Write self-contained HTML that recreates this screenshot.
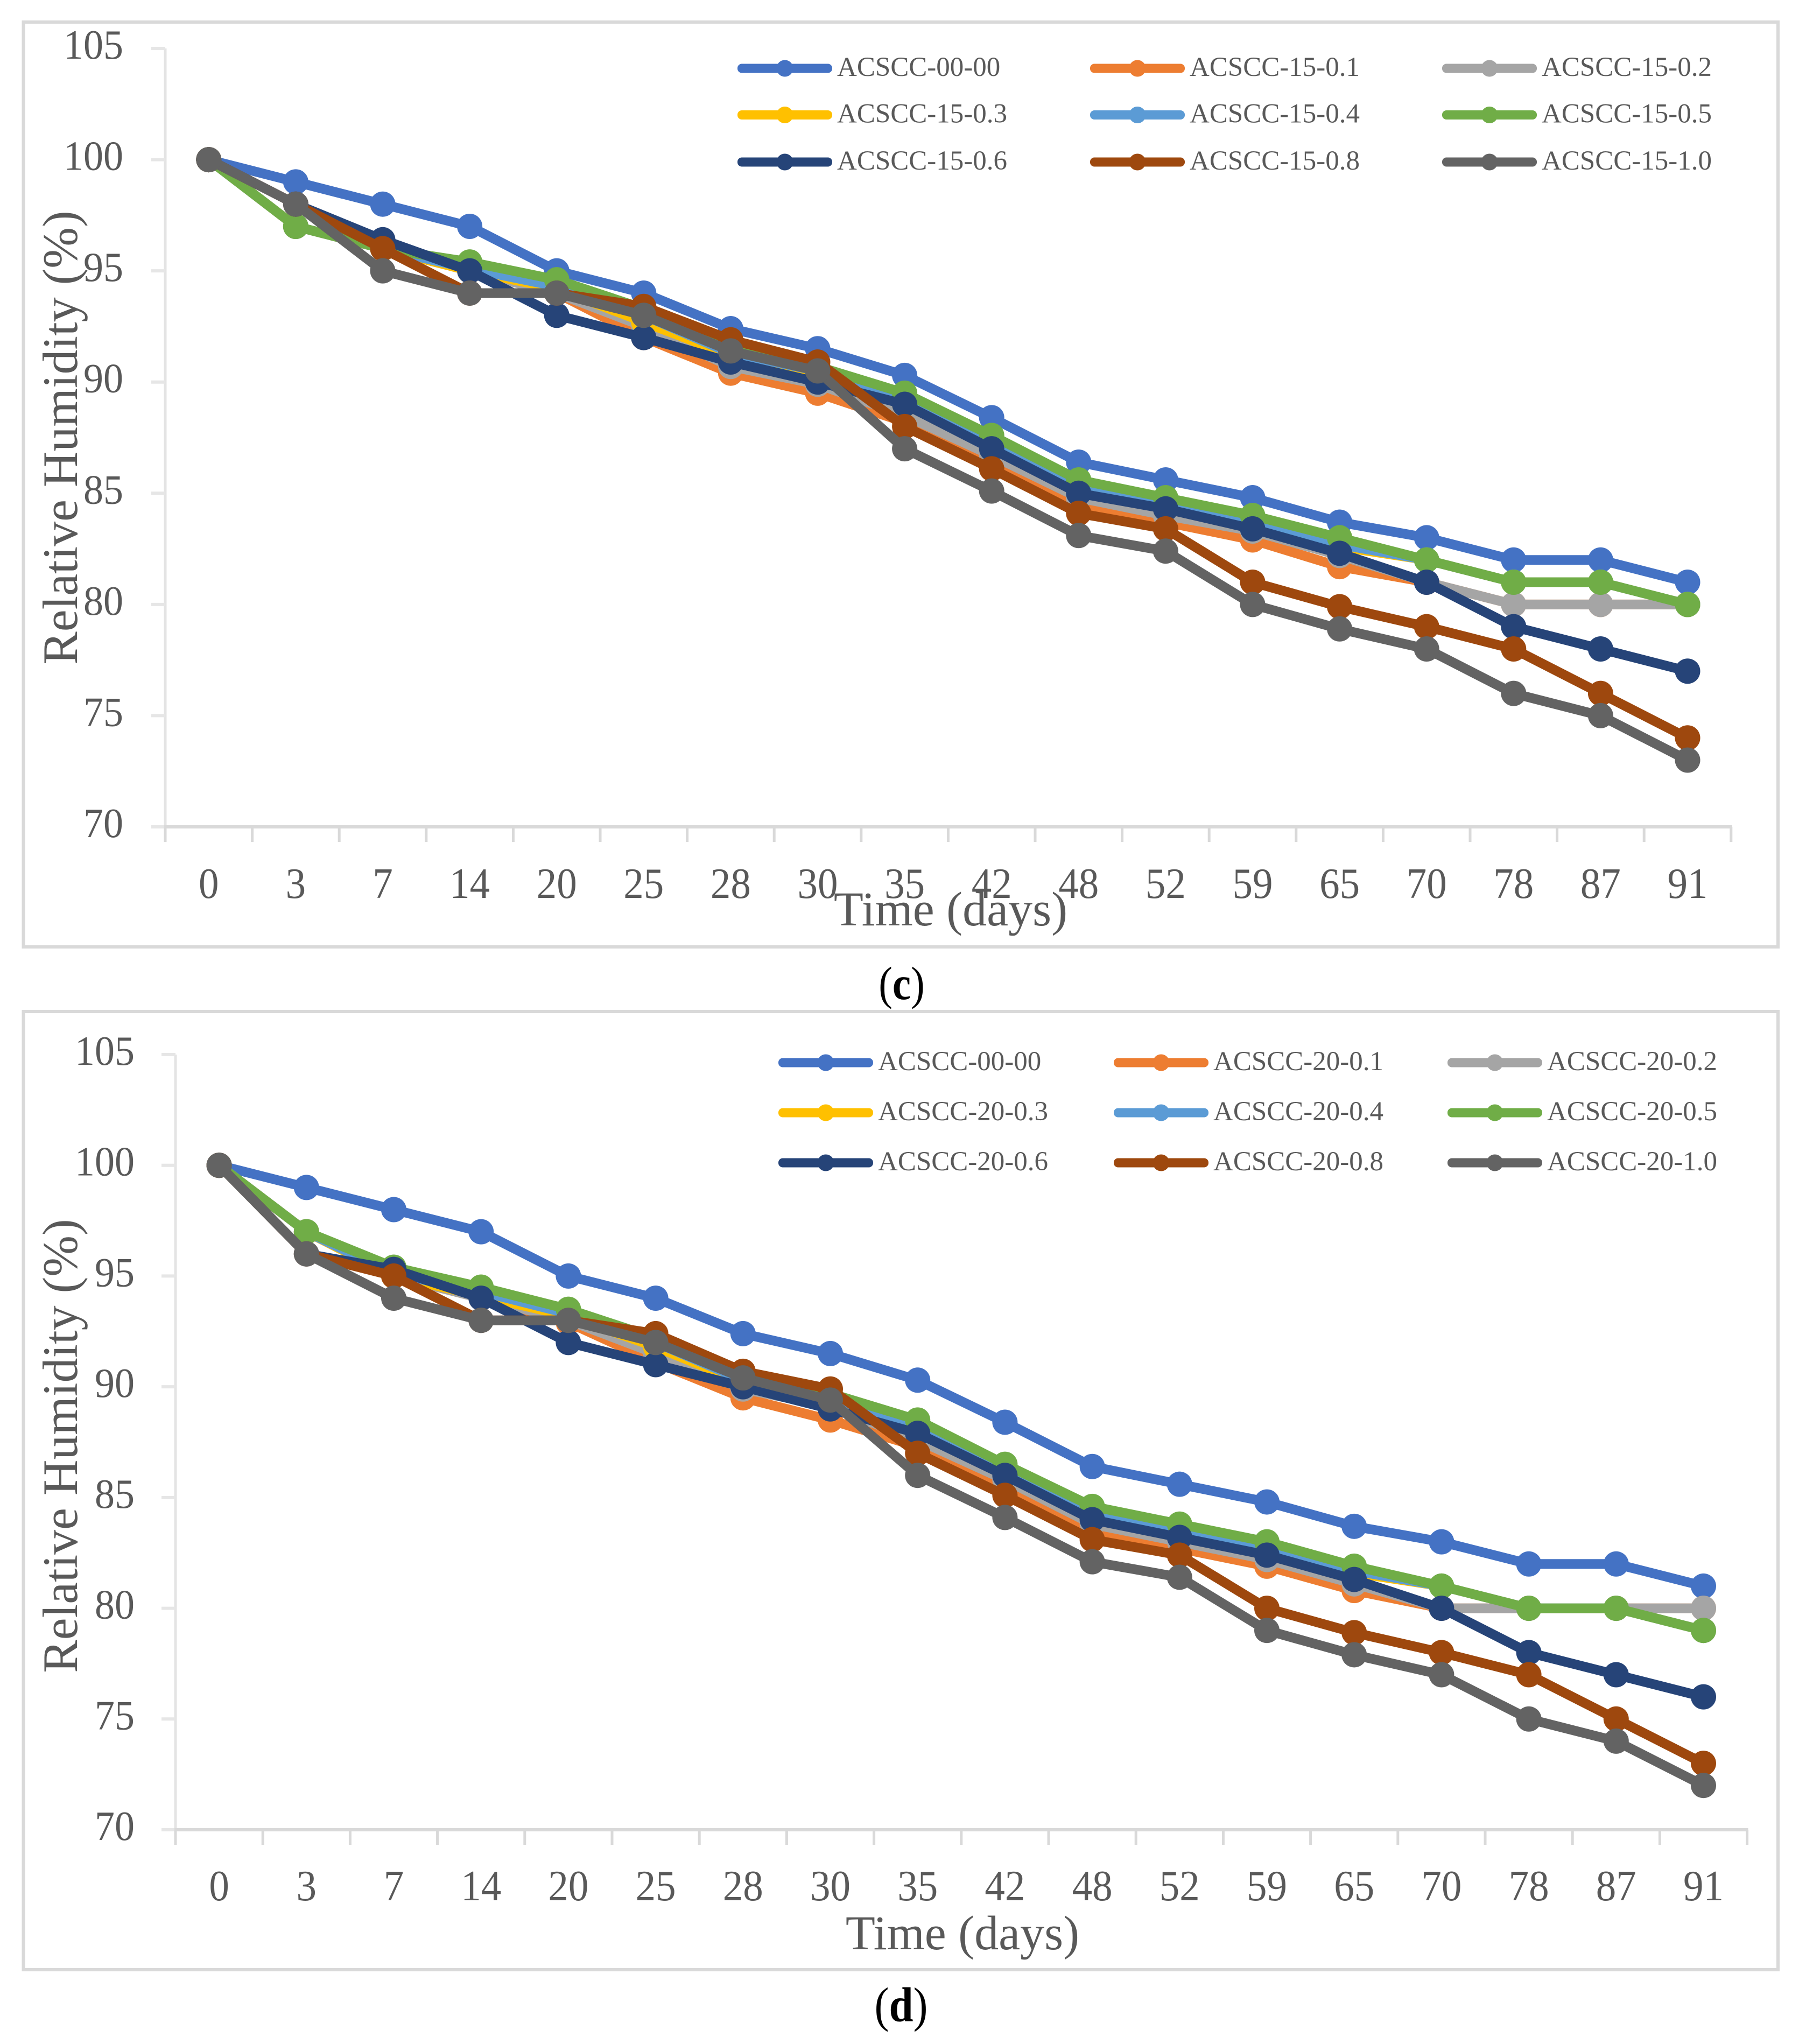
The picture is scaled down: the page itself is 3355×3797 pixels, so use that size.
<!DOCTYPE html>
<html lang="en">
<head>
<meta charset="utf-8">
<title>Relative Humidity over Time</title>
<style>
html,body{margin:0;padding:0;background:#fff;}
svg{display:block;}
text{font-family:"Liberation Serif",serif;fill:#595959;}
</style>
</head>
<body>
<svg id="figure" xmlns="http://www.w3.org/2000/svg" width="3355" height="3797" viewBox="0 0 3355 3797">
  <rect x="0" y="0" width="3355" height="3797" fill="#ffffff"/>
  <rect x="43.5" y="41" width="3259.5" height="1718" fill="#fff" stroke="#D9D9D9" stroke-width="6"/>
  <rect x="43.5" y="1879" width="3259.5" height="1780" fill="#fff" stroke="#D9D9D9" stroke-width="6"/>
  <g id="chart-c"></g>
  <g id="chart-d"></g>
  <text transform="translate(143,813) rotate(-90)" text-anchor="middle" font-size="92">Relative Humidity (%)</text>
  <text transform="translate(143,2686) rotate(-90)" text-anchor="middle" font-size="92">Relative Humidity (%)</text>
  <text x="1766" y="1719" text-anchor="middle" font-size="90">Time (days)</text>
  <text x="1788" y="3621" text-anchor="middle" font-size="90">Time (days)</text>
  <text transform="translate(1675,1856) scale(1,1.13)" text-anchor="middle" font-size="77" style="fill:#000">(<tspan font-weight="bold">c</tspan>)</text>
  <text transform="translate(1674,3755) scale(1,1.12)" text-anchor="middle" font-size="81" style="fill:#000">(<tspan font-weight="bold">d</tspan>)</text>
</svg>
<script>
// ---- shared categories and axis labels ----
const days = ["0","3","7","14","20","25","28","30","35","42","48","52","59","65","70","78","87","91"];
const yTicks = [70,75,80,85,90,95,100,105];
const seriesColors = ["#4472C4","#ED7D31","#A5A5A5","#FFC000","#5B9BD5","#70AD47","#264478","#9E480E","#636363"];

// ---- chart (c) values ----
const namesC = ["ACSCC-00-00","ACSCC-15-0.1","ACSCC-15-0.2","ACSCC-15-0.3","ACSCC-15-0.4","ACSCC-15-0.5","ACSCC-15-0.6","ACSCC-15-0.8","ACSCC-15-1.0"];
const c_00_00 = [100,99,98,97,95,94,92.4,91.5,90.3,88.4,86.4,85.6,84.8,83.7,83,82,82,81];
const c_15_01 = [100,97,96,95,94,92,90.4,89.5,88.2,86.4,84.5,83.7,82.9,81.7,81,80,80,80];
const c_15_02 = [100,97,96,95,94,92.5,90.7,89.9,88.5,86.7,84.8,84,83.3,82.2,81,80,80,80];
const c_15_03 = [100,97,96,95,94.2,92.7,91.2,90.2,89,87.1,85.1,84.4,83.6,82.6,82,81,81,80];
const c_15_04 = [100,97,96,95.1,94.3,93,91.3,90.5,89.1,87.2,85.2,84.5,83.7,82.7,82,81,81,80];
const c_15_05 = [100,97,96,95.4,94.6,93.3,91.5,90.7,89.5,87.6,85.6,84.8,84,83,82,81,81,80];
const c_15_06 = [100,98,96.4,95,93,92,90.9,90,89,87,85,84.3,83.4,82.3,81,79,78,77];
const c_15_08 = [100,98,96,94,94,93.4,91.9,90.9,88,86.1,84.1,83.4,81,79.9,79,78,76,74];
const c_15_10 = [100,98,95,94,94,93,91.4,90.5,87,85.1,83.1,82.4,80,78.9,78,76,75,73];

// ---- chart (d) values ----
const namesD = ["ACSCC-00-00","ACSCC-20-0.1","ACSCC-20-0.2","ACSCC-20-0.3","ACSCC-20-0.4","ACSCC-20-0.5","ACSCC-20-0.6","ACSCC-20-0.8","ACSCC-20-1.0"];
const d_00_00 = [100,99,98,97,95,94,92.4,91.5,90.3,88.4,86.4,85.6,84.8,83.7,83,82,82,81];
const d_20_01 = [100,97,95,94,92.9,91.1,89.5,88.5,87.3,85.5,83.4,82.7,81.9,80.8,80,80,80,80];
const d_20_02 = [100,97,95,94,93,91.5,89.9,89.1,87.6,85.8,83.8,83,82.2,81.1,80,80,80,80];
const d_20_03 = [100,97,95,94.1,93.2,91.8,90.2,89.3,88,86.1,84.1,83.4,82.6,81.6,81,80,80,79];
const d_20_04 = [100,97,95.1,94.3,93.3,92,90.3,89.5,88.1,86.2,84.2,83.5,82.7,81.7,81,80,80,79];
const d_20_05 = [100,97,95.4,94.5,93.5,92.2,90.5,89.7,88.5,86.5,84.6,83.8,83,81.9,81,80,80,79];
const d_20_06 = [100,96,95.3,94,92,91,90,89,87.9,86,84,83.2,82.4,81.3,80,78,77,76];
const d_20_08 = [100,96,95,93,93,92.4,90.7,89.9,87,85.1,83.1,82.4,80,78.9,78,77,75,73];
const d_20_10 = [100,96,94,93,93,92,90.4,89.4,86,84.1,82.1,81.4,79,77.9,77,75,74,72];

const seriesC = [c_00_00,c_15_01,c_15_02,c_15_03,c_15_04,c_15_05,c_15_06,c_15_08,c_15_10];
const seriesD = [d_00_00,d_20_01,d_20_02,d_20_03,d_20_04,d_20_05,d_20_06,d_20_08,d_20_10];

const NS = "http://www.w3.org/2000/svg";
function make(parent, tag, attrs, txt){
  const el = document.createElementNS(NS, tag);
  for (const k in attrs) el.setAttribute(k, attrs[k]);
  if (txt !== undefined) el.textContent = txt;
  parent.appendChild(el);
  return el;
}

function drawChart(root, prefix, names, series, layout){
  const xScale = i => layout.left + (i + 0.5) * layout.step;
  const yScale = v => layout.bottom - (v - 70) * (layout.bottom - layout.top) / 35;

  // y axis
  const yLine = make(root, "line", {x1:layout.left, x2:layout.left, y1:layout.top, y2:layout.bottom, stroke:"#E4E4E4", "stroke-width":5});
  
  
  yTicks.forEach(t => {
    const y = yScale(t);
    const tick = make(root, "line", {x1:layout.left - 26, x2:layout.left, y1:y, y2:y, stroke:"#E6E6E6", "stroke-width":6});
    
    
    const lab = make(root, "text", {transform:"translate(" + layout.yLabelRight + "," + (y + 19) + ") scale(1,1.05)", "text-anchor":"end", "font-size":74}, String(t));
    
    
  });

  // x axis
  const xRight = layout.left + days.length * layout.step;
  const xLine = make(root, "line", {x1:layout.left - 2, x2:xRight + 2, y1:layout.bottom, y2:layout.bottom, stroke:"#D9D9D9", "stroke-width":6});
  
  
  for (let i = 0; i <= days.length; i++){
    const x = layout.left + i * layout.step;
    const tick = make(root, "line", {x1:x, x2:x, y1:layout.bottom, y2:layout.bottom + 28, stroke:"#D9D9D9", "stroke-width":5});
    
    
  }
  days.forEach((d, i) => {
    const lab = make(root, "text", {transform:"translate(" + xScale(i) + "," + layout.xLabelBase + ") scale(1,1.07)", "text-anchor":"middle", "font-size":75}, d);
    
    
  });

  // series
  series.forEach((vals, s) => {
    const g = make(root, "g", {});
    
    
    const pts = vals.map((v, i) => xScale(i) + "," + yScale(v)).join(" ");
    const line = make(g, "polyline", {points:pts, fill:"none", stroke:seriesColors[s], "stroke-width":18, "stroke-linejoin":"round", "stroke-linecap":"round"});
    
    
    vals.forEach((v, i) => {
      const dot = make(g, "circle", {cx:xScale(i), cy:yScale(v), r:23.5, fill:seriesColors[s]});
      
      
    });
  });

  // legend
  names.forEach((n, s) => {
    const col = s % 3, row = Math.floor(s / 3);
    const lx = layout.legendCols[col], cy = layout.legendRows[row], w = 176;
    const g = make(root, "g", {});
    
    
    const sw = make(g, "rect", {x:lx, y:cy - 8.5, width:w, height:17, rx:8, fill:seriesColors[s]});
    
    
    const mk = make(g, "circle", {cx:lx + w / 2, cy:cy, r:15.5, fill:seriesColors[s]});
    
    
    const t = make(g, "text", {x:lx + w + 9, y:cy + 14, "font-size":51}, n);
    
    
  });
}

drawChart(document.getElementById("chart-c"), "chart-c", namesC, seriesC, {
  left:307, step:161.6, top:90, bottom:1536, yLabelRight:229, xLabelBase:1668,
  legendCols:[1370,2025,2679], legendRows:[127,213.5,301]
});
drawChart(document.getElementById("chart-d"), "chart-d", namesD, seriesD, {
  left:326, step:162.2, top:1959, bottom:3399, yLabelRight:250, xLabelBase:3530,
  legendCols:[1446,2069,2689], legendRows:[1974,2067,2160]
});
</script>
</body>
</html>
